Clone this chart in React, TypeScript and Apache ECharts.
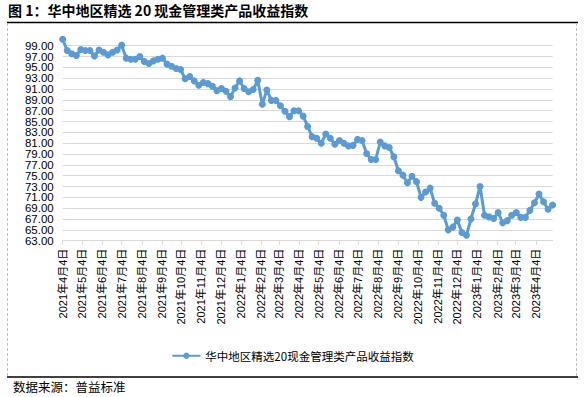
import React, { useEffect, useRef } from "react";
import * as echarts from "echarts";

const TITLE = "图 1：华中地区精选 20 现金管理类产品收益指数";
const SERIES_NAME = "华中地区精选20现金管理类产品收益指数";
const SOURCE = "数据来源：普益标准";

// first observation date and number of axis days
const START = [2021, 3, 4]; // 2021-04-04 (month is 0-based)
const AXIS_DAYS = 757;
const STEP_DAYS = 7; // weekly observations

const values = [
  100.2, 98.1, 97.5, 97.2, 98.3, 98.1, 98.1, 97.1, 98.2, 97.8,
  97.3, 97.8, 98.2, 99.1, 96.7, 96.5, 96.5, 97.0, 96.1, 95.7,
  96.2, 96.5, 96.7, 95.6, 95.2, 94.8, 94.6, 92.9, 93.3, 92.5,
  91.7, 92.2, 92.0, 91.5, 90.7, 91.1, 90.6, 89.6, 91.2, 92.5,
  91.1, 90.5, 90.9, 92.6, 88.2, 90.8, 88.9, 88.9, 87.9, 86.9,
  85.9, 87.0, 87.0, 86.0, 84.1, 82.2, 81.9, 81.0, 82.7, 81.9,
  80.8, 81.5, 81.0, 80.5, 80.6, 81.7, 81.5, 79.1, 78.0, 78.0,
  81.2, 80.5, 80.2, 78.5, 75.9, 75.1, 73.7, 74.9, 73.9, 71.0,
  72.0, 72.7, 69.9, 69.0, 67.7, 65.0, 65.5, 66.8, 64.5, 64.0,
  67.0, 69.8, 73.0, 67.7, 67.4, 67.1, 68.2, 66.3, 66.7, 67.7,
  68.2, 67.3, 67.3, 68.6, 70.0, 71.6, 70.2, 68.8, 69.6,
];

const Y_MIN = 63;
const Y_MAX = 99;
const Y_INTERVAL = 2;

function dayDate(i: number) {
  return new Date(START[0], START[1], START[2] + i);
}

export default function App() {
  const ref = useRef<HTMLDivElement>(null);

  useEffect(() => {
    if (!ref.current) return;
    const chart = echarts.init(ref.current, null, { renderer: "svg" });

    const categories: string[] = [];
    const dayOfMonth: number[] = [];
    for (let i = 0; i < AXIS_DAYS; i++) {
      const d = dayDate(i);
      categories.push(`${d.getFullYear()}年${d.getMonth() + 1}月${d.getDate()}日`);
      dayOfMonth.push(d.getDate());
    }
    const data: (number | null)[] = new Array(AXIS_DAYS).fill(null);
    values.forEach((v, k) => {
      const idx = k * STEP_DAYS;
      if (idx < AXIS_DAYS) data[idx] = v;
    });
    const isTick = (index: number) => dayOfMonth[index] === 4;

    const blue = "#5B9BD5";

    // two overlaid value axes with the same scale; each labels every other tick
    const yLabelStyle = {
      margin: 9,
      fontSize: 11.5,
      showMinLabel: true,
      showMaxLabel: true,
      fontFamily: "Liberation Sans, Arial",
      color: "#000",
    };
    const yBase = {
      type: "value",
      min: Y_MIN,
      max: Y_MAX,
      interval: Y_INTERVAL,
      position: "left",
      offset: 0,
      axisLine: { show: false },
      axisTick: { show: false },
    };

    chart.setOption({
      animation: false,
      grid: { left: 62.7, right: 32.4, top: 45.7, bottom: 156.3, containLabel: false },
      xAxis: {
        type: "category",
        data: categories,
        boundaryGap: false,
        axisLine: { show: true, lineStyle: { color: "#D9D9D9", width: 1 } },
        axisTick: { show: true, interval: isTick, length: 4, lineStyle: { color: "#D9D9D9" } },
        axisLabel: {
          interval: isTick,
          rotate: 90,
          margin: 8,
          fontSize: 11,
          fontFamily: "Liberation Sans, Arial, Noto Sans CJK SC",
          color: "#000",
        },
        splitLine: { show: false },
      },
      yAxis: [
        {
          ...yBase,
          axisLabel: {
            ...yLabelStyle,
            formatter: (v: number) =>
              Math.round(v - Y_MIN) % (2 * Y_INTERVAL) === 0 ? v.toFixed(2) : "",
          },
          splitLine: { lineStyle: { color: "#D9D9D9", width: 1 } },
        },
        {
          ...yBase,
          axisLabel: {
            ...yLabelStyle,
            formatter: (v: number) =>
              Math.round(v - Y_MIN) % (2 * Y_INTERVAL) !== 0 ? v.toFixed(2) : "",
          },
          splitLine: { show: false },
        },
      ],
      legend: {
        left: "center",
        top: 345,
        itemWidth: 28,
        itemHeight: 8,
        itemGap: 4,
        textStyle: { fontSize: 11.5, fontFamily: "Noto Sans CJK SC", color: "#000" },
        data: [SERIES_NAME],
      },
      series: [
        {
          name: SERIES_NAME,
          type: "line",
          yAxisIndex: 0,
          data,
          connectNulls: true,
          clip: false,
          showSymbol: true,
          showAllSymbol: true,
          symbol: "circle",
          symbolSize: 7,
          lineStyle: { color: blue, width: 3 },
          itemStyle: { color: blue },
        },
      ],
      graphic: [
        {
          type: "text",
          left: 8,
          top: 3,
          style: {
            text: TITLE,
            font: "bold 14px 'Noto Sans CJK SC'",
            fill: "#000",
          },
        },
        {
          type: "line",
          shape: { x1: 7, y1: 22.5, x2: 578, y2: 22.5 },
          style: { stroke: "#000", lineWidth: 1.5 },
        },
        {
          type: "line",
          shape: { x1: 7.5, y1: 23, x2: 7.5, y2: 376 },
          style: { stroke: "#BFBFBF", lineWidth: 1, lineDash: [3, 2] },
        },
        {
          type: "line",
          shape: { x1: 576.5, y1: 23, x2: 576.5, y2: 376 },
          style: { stroke: "#BFBFBF", lineWidth: 1, lineDash: [3, 2] },
        },
        {
          type: "line",
          shape: { x1: 7, y1: 377, x2: 578, y2: 377 },
          style: { stroke: "#000", lineWidth: 1.5 },
        },
        {
          type: "text",
          left: 13,
          top: 380,
          style: {
            text: SOURCE,
            font: "12.5px 'Noto Sans CJK SC'",
            fill: "#000",
          },
        },
      ],
    });

    return () => chart.dispose();
  }, []);

  return (
    <div
      ref={ref}
      style={{ position: "absolute", left: 0, top: 0, width: 585, height: 397, background: "#fff" }}
    />
  );
}
